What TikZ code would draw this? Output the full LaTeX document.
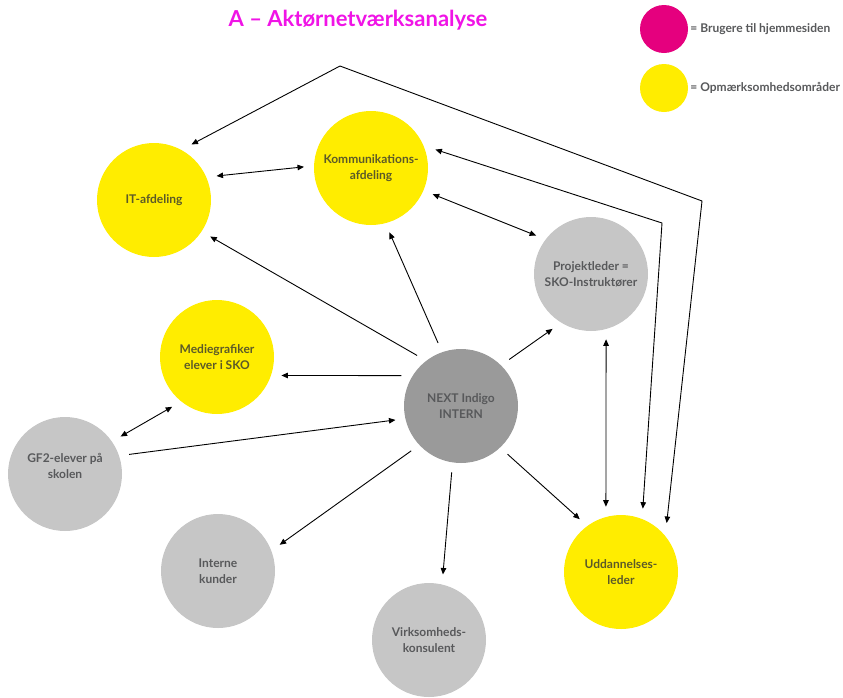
\documentclass[tikz,border=0pt]{standalone}
\usepackage{fontspec}
\setmainfont{Lato}
\usetikzlibrary{positioning,arrows.meta}
\definecolor{akyellow}{RGB}{255,237,0}
\definecolor{akgrey}{RGB}{198,198,198}
\definecolor{akdark}{RGB}{154,154,154}
\definecolor{akmagenta}{RGB}{229,0,126}
\definecolor{aktitle}{RGB}{240,20,230}
\definecolor{aktext}{RGB}{88,89,91}
\definecolor{akolive}{RGB}{92,90,40}

\tikzset{
  bubbletext/.style={align=center, font=\fontsize{12}{16}\selectfont\bfseries},
  bubble/.style={circle, minimum size=114pt, inner sep=0pt, outer sep=10pt, bubbletext},
  yellowbubble/.style={bubble, fill=akyellow, text=akolive},
  greybubble/.style={bubble, fill=akgrey, text=aktext},
  legendtext/.style={inner sep=2pt, text=aktext, font=\fontsize{12}{14}\selectfont\bfseries},
  link/.style={-{Triangle[length=6.5pt,width=5.5pt]}, line width=0.9pt},
  twoway/.style={{Triangle[length=6.5pt,width=5.5pt]}-{Triangle[length=6.5pt,width=5.5pt]}, line width=0.9pt},
}

\begin{document}
\begin{tikzpicture}[x=1pt, y=-1pt]
\useasboundingbox (0,0) rectangle (843,697);

% Title
\node[font=\fontsize{22}{26}\selectfont\bfseries, text=aktitle] (title) at (358,20) {A – Aktørnetværksanalyse};

% Legend
\node[circle, fill=akmagenta, minimum size=48pt, inner sep=0pt] (legusers) at (664,29) {};
\node[legendtext, right=0pt of legusers] (leguserstext) {= Brugere til hjemmesiden};
\node[circle, fill=akyellow, minimum size=48pt, inner sep=0pt] (legfocus) at (664,88) {};
\node[legendtext, right=0pt of legfocus] (legfocustext) {= Opmærksomhedsområder};

% Actors
\node[yellowbubble] (it) at (154,200) {IT-afdeling};
\node[yellowbubble] (komm) at (371,168) {Kommunikations-\\afdeling};
\node[greybubble] (proj) at (591,274) {Projektleder =\\SKO-Instruktører};
\node[yellowbubble] (medie) at (217,357) {Mediegrafiker\\elever i SKO};
\node[greybubble, fill=akdark] (next) at (461,406) {NEXT Indigo\\INTERN};
\node[greybubble, label={[bubbletext, text=aktext, yshift=8pt]center:GF2-elever på\\skolen}] (gf2) at (65,474) {};
\node[greybubble] (interne) at (218,571) {Interne\\kunder};
\node[greybubble] (virk) at (429,640) {Virksomheds-\\konsulent};
\node[yellowbubble] (udd) at (621,572) {Uddannelses-\\leder};

% Corners of the long lines
\coordinate (apex) at (340,66);
\coordinate (outercorner) at (702,201);
\coordinate (innercorner) at (662,223);

% Two-way arrows
\draw[twoway] (it.21) -- (komm.179);
\draw[twoway] (komm.-23) -- (proj.145);
\draw[twoway] (proj.-77) -- (udd.103);
\draw[twoway] (gf2.34) -- (medie.228);
\draw[twoway] (it.56) -- (apex) -- (outercorner) -- (udd.47);
\draw[twoway] (komm.16) -- (innercorner) -- (udd.71);

% One-way arrows
\draw[link] (next.131) -- (it.-33);
\draw[link] (next.110) -- (komm.-74);
\draw[link] (next.44) -- (proj.235);
\draw[link] (next.153) -- (medie.-16);
\draw[link] (gf2.17) -- (next.192);
\draw[link] (next.222) -- (interne.23);
\draw[link] (next.262) -- (virk.78);
\draw[link] (next.-46) -- (udd.128);
\end{tikzpicture}
\end{document}
